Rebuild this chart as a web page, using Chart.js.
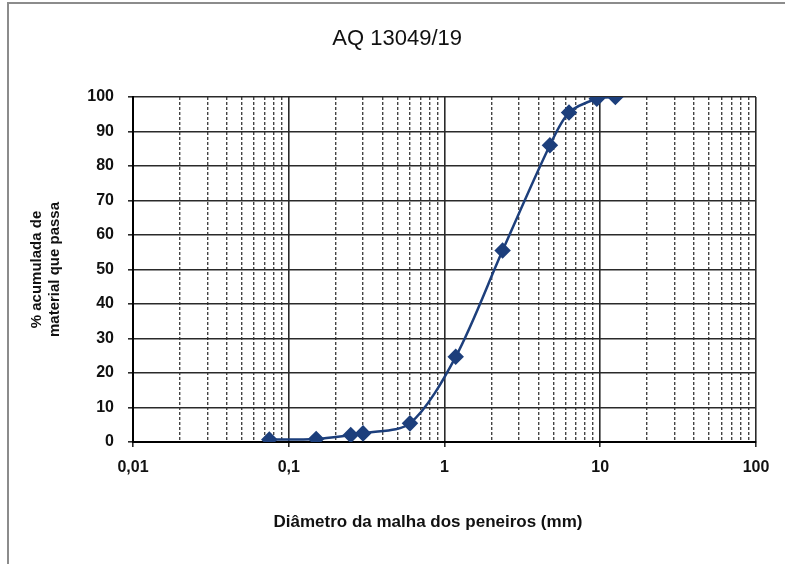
<!DOCTYPE html>
<html>
<head>
<meta charset="utf-8">
<script src="https://cdn.jsdelivr.net/npm/chart.js@4/dist/chart.umd.min.js"></script>
<style>
    html, body { margin: 0; padding: 0; background: #fff; }
    #wrap { position: relative; width: 785px; height: 564px; }
    #frame { position: absolute; left: 7px; top: 2px; right: 0; bottom: 0;
             border-left: 2px solid #8c8c8c; border-top: 2px solid #8c8c8c; }
</style>
</head>
<body>
<div id="wrap">
    <canvas id="granulometria" width="785" height="564"></canvas>
    <div id="frame"></div>
</div>
<script>

// Data

var sieveSizes = [0.075, 0.15, 0.25, 0.3, 0.6, 1.18, 2.36, 4.75, 6.3, 9.5, 12.5];
var percentPassing = [0.7, 0.9, 2.0, 2.5, 5.4, 24.7, 55.5, 86, 95.5, 99.5, 100];

var xDecades = [0.01, 0.1, 1, 10, 100];
var xDecadeLabels = ['0,01', '0,1', '1', '10', '100'];
var yTicks = [0, 10, 20, 30, 40, 50, 60, 70, 80, 90, 100];

var titleText = 'AQ 13049/19';
var xTitle = 'Diâmetro da malha dos peneiros (mm)';
var yTitle = ['% acumulada de', 'material que passa'];


// Helpers

var fontFamily = "'Liberation Sans', Arial, sans-serif";
var gridDark = '#2a2a2a';
var lineColor = '#1d3f7c';
var nbsp = '\u00a0';

function isDecade(v) {
    var l = Math.log10(v);
    return Math.abs(l - Math.round(l)) < 1e-9;
}

// all 1..9 multiples between 0.01 and 100
function logTickValues() {
    var vals = [];
    for (var d = 0; d < xDecades.length - 1; d++) {
        for (var m = 1; m <= 9; m++) {
            vals.push(+(m * xDecades[d]).toPrecision(6));
        }
    }
    vals.push(xDecades[xDecades.length - 1]);
    return vals;
}

function setLogTicks(scale) {
    scale.ticks = logTickValues().map(function (v) { return { value: v }; });
}

var points = sieveSizes.map(function (s, i) {
    return { x: s, y: percentPassing[i] };
});


// Chart

var ctx = document.getElementById('granulometria');

var chart = new Chart(ctx, {
    type: 'line',
    data: {
        datasets: [{
            data: points,
            borderColor: lineColor,
            backgroundColor: lineColor,
            borderWidth: 2.5,
            pointStyle: 'rectRot',
            pointRadius: 6.5,
            pointHoverRadius: 6.5,
            tension: 0.3,
            fill: false
        }]
    },
    options: {
        responsive: false,
        animation: false,
        layout: {
            padding: { left: 20, right: 29, top: 0, bottom: 10 }
        },
        plugins: {
            legend: { display: false },
            tooltip: { enabled: false },
            title: {
                display: true,
                // leading spaces nudge the title a little right, as in the original
                text: nbsp.repeat(3) + titleText,
                color: '#111',
                font: { family: fontFamily, size: 22, weight: 'normal' },
                padding: { top: 26, bottom: 44.6 }
            }
        },
        scales: {
            x: {
                type: 'logarithmic',
                position: 'bottom',
                min: 0.01,
                max: 100,
                afterBuildTicks: setLogTicks,
                afterFit: function (scale) { scale.height = 112; },
                border: { display: true, color: '#000', width: 2 },
                grid: {
                    color: function (c) {
                        return c.tick && isDecade(c.tick.value) ? gridDark : 'rgba(0,0,0,0)';
                    },
                    lineWidth: 1.6,
                    tickLength: 5,
                    tickColor: function (c) {
                        return c.tick && isDecade(c.tick.value) ? gridDark : 'rgba(0,0,0,0)';
                    }
                },
                ticks: {
                    autoSkip: false,
                    maxRotation: 0,
                    padding: 11,
                    color: '#111',
                    font: { family: fontFamily, size: 16, weight: 'bold' },
                    callback: function (v) {
                        var i = xDecades.indexOf(v);
                        return i >= 0 ? xDecadeLabels[i] : '';
                    }
                },
                title: {
                    display: true,
                    // trailing spaces shift the centred title left, as in the original
                    text: xTitle + nbsp.repeat(7),
                    color: '#111',
                    font: { family: fontFamily, size: 17, weight: 'bold' },
                    padding: { top: 0, bottom: 21 }
                }
            },
            xMinor: {
                type: 'logarithmic',
                position: 'bottom',
                min: 0.01,
                max: 100,
                afterBuildTicks: setLogTicks,
                afterFit: function (scale) { scale.height = 0; },
                border: { display: false, dash: [3, 2] },
                grid: {
                    color: function (c) {
                        return c.tick && !isDecade(c.tick.value) ? '#444' : 'rgba(0,0,0,0)';
                    },
                    lineWidth: 1.4,
                    drawTicks: false
                },
                ticks: { display: false, autoSkip: false }
            },
            y: {
                min: 0,
                max: 100,
                afterBuildTicks: function (scale) {
                    scale.ticks = yTicks.map(function (v) { return { value: v }; });
                },
                afterFit: function (scale) { scale.width = 113; },
                border: { display: true, color: '#000', width: 2 },
                grid: {
                    color: gridDark,
                    lineWidth: 1.6,
                    tickLength: 5
                },
                ticks: {
                    padding: 14,
                    color: '#111',
                    font: { family: fontFamily, size: 16, weight: 'bold' }
                },
                title: {
                    display: true,
                    text: yTitle,
                    color: '#111',
                    font: { family: fontFamily, size: 15, weight: 'bold' },
                    padding: { top: 8, bottom: 0 }
                }
            }
        }
    }
});

</script>
</body>
</html>
